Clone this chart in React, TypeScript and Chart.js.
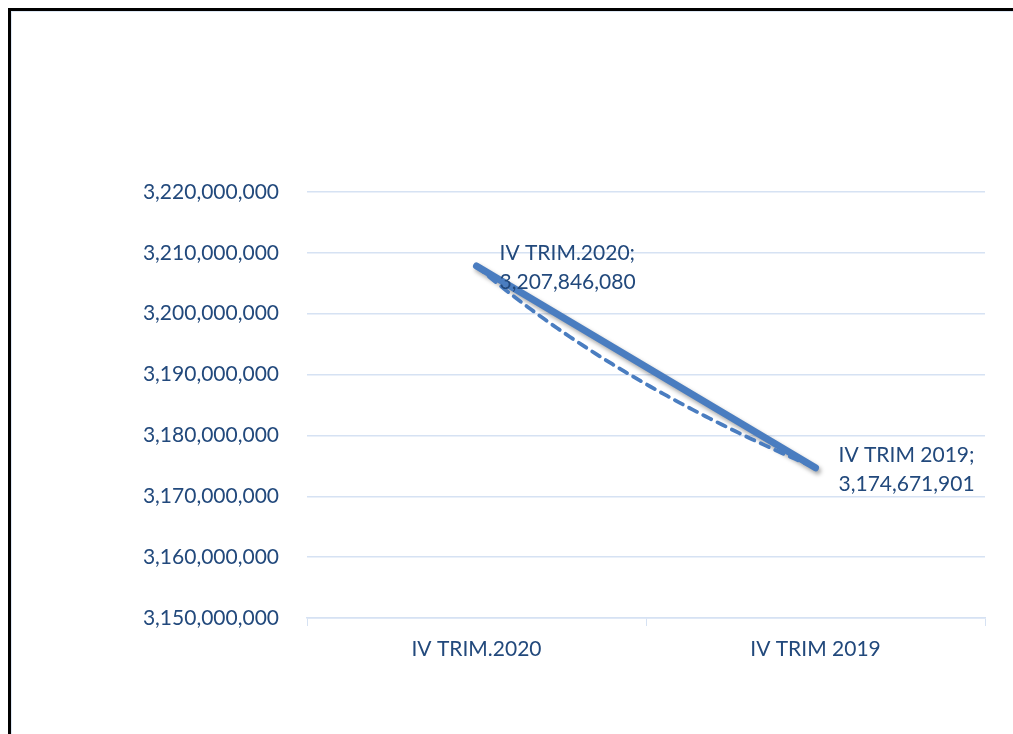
import React, { useEffect, useRef } from "react";
import { Chart, registerables } from "chart.js";

Chart.register(...registerables);

const categories = ["IV TRIM.2020", "IV TRIM 2019"];
const values = [3207846080, 3174671901];
const yMin = 3150000000;
const yMax = 3220000000;
const yStep = 10000000;

const TEXT = "#22497c";
const LINE = "#4a7dc0";
const GRID = "#d6e2f3";
const FONT = "Lato, 'Open Sans', sans-serif";

const fmt = (v: number) => v.toLocaleString("en-US");

const shadowPlugin = {
  id: "lineShadow",
  beforeDatasetDraw(chart: any) {
    const ctx = chart.ctx;
    ctx.save();
    ctx.shadowColor = "rgba(0,0,0,0.35)";
    ctx.shadowBlur = 4;
    ctx.shadowOffsetX = 2;
    ctx.shadowOffsetY = 3;
  },
  afterDatasetDraw(chart: any) {
    chart.ctx.restore();
  },
};

const trendPlugin = {
  id: "logTrend",
  afterDatasetsDraw(chart: any) {
    const ys = chart.data.datasets[0].data as number[];
    const n = ys.length;
    // least squares fit y = a*ln(x) + b, x = 1..n
    let sx = 0, sy = 0, sxx = 0, sxy = 0;
    for (let i = 0; i < n; i++) {
      const lx = Math.log(i + 1);
      sx += lx; sy += ys[i]; sxx += lx * lx; sxy += lx * ys[i];
    }
    const a = (n * sxy - sx * sy) / (n * sxx - sx * sx);
    const b = (sy - a * sx) / n;
    const xs = chart.scales.x;
    const yScale = chart.scales.y;
    const ctx = chart.ctx;
    ctx.save();
    ctx.strokeStyle = LINE;
    ctx.lineWidth = 3.8;
    ctx.lineCap = "round";
    ctx.setLineDash([9, 7]);
    ctx.beginPath();
    const steps = 80;
    for (let s = 0; s <= steps; s++) {
      const x = 1 + ((n - 1) * s) / steps;
      const px = xs.getPixelForValue(x - 1);
      const py = yScale.getPixelForValue(a * Math.log(x) + b);
      if (s === 0) ctx.moveTo(px, py);
      else ctx.lineTo(px, py);
    }
    ctx.stroke();
    ctx.restore();
  },
};

const labelPlugin = {
  id: "dataLabels",
  afterDraw(chart: any) {
    const ctx = chart.ctx;
    const meta = chart.getDatasetMeta(0);
    ctx.save();
    ctx.font = `21px ${FONT}`;
    ctx.fillStyle = TEXT;
    ctx.textAlign = "left";
    ctx.textBaseline = "middle";
    meta.data.forEach((pt: any, i: number) => {
      const x = pt.x + 23;
      ctx.fillText(categories[i] + ";", x, pt.y - 13);
      ctx.fillText(fmt(values[i]), x, pt.y + 16);
    });
    ctx.restore();
  },
};

export default function App() {
  const ref = useRef<HTMLCanvasElement | null>(null);
  useEffect(() => {
    document.body.style.margin = "0";
    if (!ref.current) return;
    const chart = new Chart(ref.current, {
      type: "line",
      data: {
        labels: categories,
        datasets: [
          {
            data: values,
            borderColor: LINE,
            borderWidth: 7,
            borderCapStyle: "round",
            pointRadius: 0,
            tension: 0,
            fill: false,
          },
        ],
      },
      options: {
        animation: false,
        responsive: false,
        maintainAspectRatio: false,
        layout: { padding: { top: 192, right: 28, left: 0, bottom: 0 } },
        plugins: { legend: { display: false }, tooltip: { enabled: false } },
        scales: {
          x: {
            offset: true,
            grid: {
              drawOnChartArea: false,
              drawTicks: true,
              tickLength: 8,
              color: GRID,
              offset: true,
            },
            border: { display: true, color: GRID, width: 1.5 },
            ticks: { color: TEXT, font: { family: FONT, size: 21 }, padding: 11 },
            afterFit: (s: any) => {
              s.height = 116;
            },
          },
          y: {
            min: yMin,
            max: yMax,
            ticks: {
              stepSize: yStep,
              color: TEXT,
              font: { family: FONT, size: 21 },
              padding: 28,
              callback: (v: any) => fmt(Number(v)),
            },
            grid: { color: GRID, lineWidth: 1.5, drawTicks: false },
            border: { display: false },
            afterFit: (s: any) => {
              s.width = 307;
            },
          },
        },
      },
      plugins: [shadowPlugin, trendPlugin, labelPlugin],
    });
    return () => chart.destroy();
  }, []);

  return (
    <div style={{ position: "relative", width: 1013, height: 734, overflow: "hidden", background: "#fff" }}>
      <div
        style={{
          position: "absolute",
          left: 8,
          top: 8,
          width: 1010,
          height: 730,
          borderLeft: "3px solid #000",
          borderTop: "3px solid #000",
          boxSizing: "border-box",
        }}
      >
        <div
          style={{
            position: "absolute",
            left: 0,
            top: 0,
            right: 0,
            bottom: 0,
            borderLeft: "1px solid #dde7f4",
            borderTop: "1px solid #dde7f4",
          }}
        />
      </div>
      <canvas ref={ref} width={1013} height={734} style={{ position: "absolute", left: 0, top: 0 }} />
    </div>
  );
}
